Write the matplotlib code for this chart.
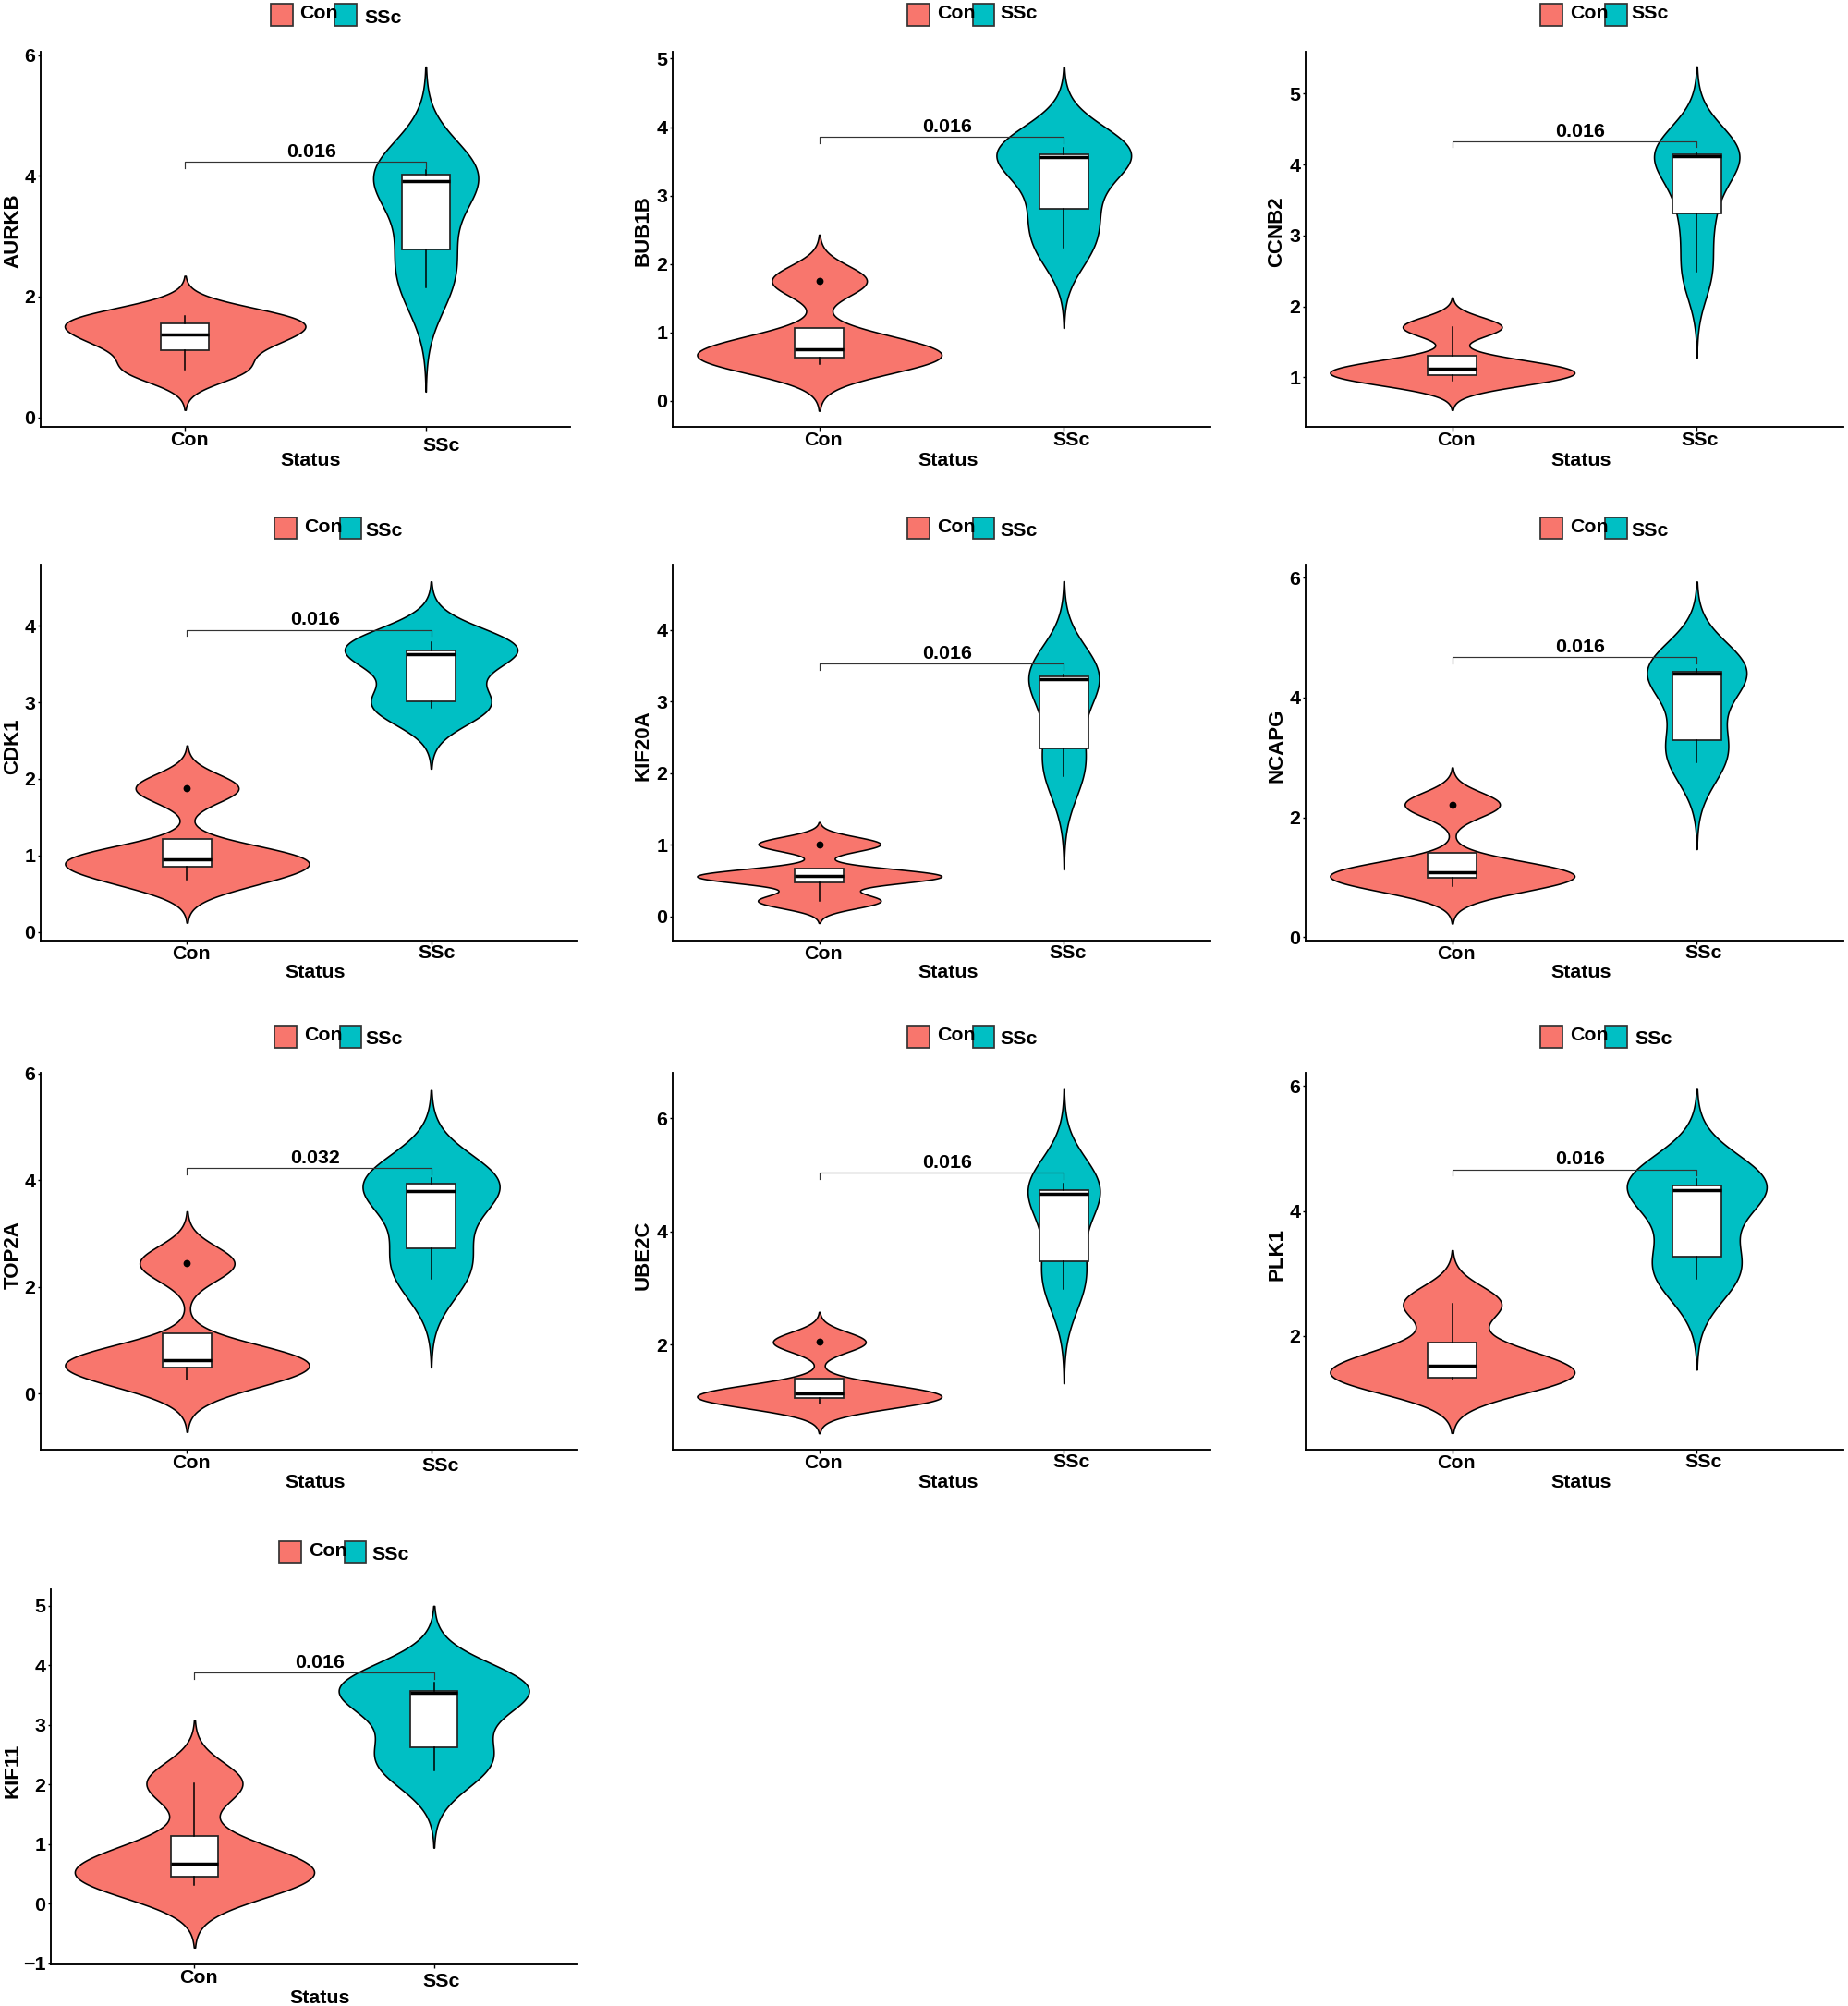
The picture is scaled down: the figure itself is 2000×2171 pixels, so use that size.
import numpy as np
import matplotlib
matplotlib.use("Agg")
import matplotlib.pyplot as plt
from matplotlib.patches import Rectangle
from matplotlib.transforms import ScaledTranslation

plt.rcParams["font.family"] = ["Liberation Sans", "DejaVu Sans"]
plt.rcParams["font.weight"] = "bold"

genes = ["AURKB", "BUB1B", "CCNB2", "CDK1", "KIF20A", "NCAPG", "TOP2A", "UBE2C", "PLK1", "KIF11"]
groups = ["Con", "SSc"]

# samples read back from the boxplots (4 controls, 5 patients per gene)
con_values = [
    [0.785, 1.226, 1.507, 1.68],
    [0.533, 0.66, 0.843, 1.753],
    [0.956, 1.061, 1.175, 1.708],
    [0.681, 0.909, 1.0, 1.876],
    [0.214, 0.556, 0.56, 1.007],
    [0.849, 1.044, 1.13, 2.214],
    [0.258, 0.57, 0.696, 2.437],
    [0.972, 1.091, 1.195, 2.05],
    [1.309, 1.349, 1.695, 2.516],
    [0.32, 0.488, 0.844, 2.019],
]
ssc_values = [
    [2.145, 2.775, 3.92, 4.015, 4.09],
    [2.245, 2.80, 3.56, 3.607, 3.70],
    [2.487, 3.31, 4.12, 4.14, 4.17],
    [2.924, 3.017, 3.629, 3.678, 3.788],
    [1.961, 2.34, 3.31, 3.355, 3.37],
    [2.922, 3.292, 4.406, 4.427, 4.484],
    [2.144, 2.712, 3.802, 3.93, 4.03],
    [2.983, 3.475, 4.657, 4.724, 4.85],
    [2.91, 3.275, 4.335, 4.405, 4.505],
    [2.234, 2.617, 3.534, 3.571, 3.702],
]
p_labels = ["0.016", "0.016", "0.016", "0.016", "0.016", "0.016", "0.032", "0.016", "0.016", "0.016"]
bracket_y = [4.233, 3.857, 4.327, 3.947, 3.529, 4.677, 4.224, 5.039, 4.663, 3.875]
y_ticks = [
    [0, 2, 4, 6],
    [0, 1, 2, 3, 4, 5],
    [1, 2, 3, 4, 5],
    [0, 1, 2, 3, 4],
    [0, 1, 2, 3, 4],
    [0, 2, 4, 6],
    [0, 2, 4, 6],
    [2, 4, 6],
    [2, 4, 6],
    [-1, 0, 1, 2, 3, 4, 5],
]
y_limits = [
    (-0.16, 6.057), (-0.378, 5.10), (0.30, 5.59), (-0.114, 4.80), (-0.34, 4.91),
    (-0.057, 6.22), (-1.054, 6.01), (0.149, 6.80), (0.183, 6.21), (-1.02, 5.275),
]

# layout in image pixels
panel_px = [
    (44, 56, 617, 462), (728, 56, 1310, 462), (1413, 56, 1995, 462),
    (44, 611, 625, 1018), (728, 611, 1310, 1018), (1413, 611, 1995, 1018),
    (44, 1161, 625, 1569), (728, 1161, 1310, 1569), (1413, 1161, 1995, 1569),
    (55, 1720, 625, 2126),
]
status_px = [(336, 498), (1026, 498), (1711, 498), (341, 1053), (1026, 1053), (1711, 1053),
             (341, 1604), (1026, 1604), (1711, 1604), (346, 2162)]
ylabel_px = [(14, 250), (696, 250), (1382, 251), (14, 808), (696, 807), (1382, 807),
             (14, 1358), (696, 1358), (1382, 1358), (14, 1916)]
ssc_label_dx = [16.8, 8.8, 2.9, 6.3, 4.6, 6.9, 10.5, 8.8, 6.9, 7.6]
ssc_label_dy = [-5.5, 0.5, 0.5, 1, 1, 1, -2.5, 1.5, 1, -4]
# con patch left, ssc patch left, patch top, con text x, con text y, ssc text x, ssc text y
legend_px = [
    (293, 362, 4.4, 345, 15, 415, 19.6),
    (982, 1052.6, 4.4, 1035, 15, 1103, 15),
    (1667, 1737.4, 4.4, 1720, 15, 1786, 15),
    (297, 367.5, 559.5, 350, 570, 415.5, 574),
    (982, 1052.6, 559.5, 1035, 570, 1103, 574),
    (1667, 1737.4, 559.5, 1720, 570, 1786, 574),
    (297, 367.5, 1110, 350, 1121, 415.5, 1124),
    (982, 1052.6, 1110, 1035, 1121, 1103, 1124),
    (1667, 1737.4, 1110, 1720, 1121, 1790, 1124),
    (302, 372.6, 1668, 355, 1679, 423, 1682),
]

FILL = {"Con": "#F8766D", "SSc": "#00BFC4"}
W, H = 2000, 2171
FONT = 15.4


def kde(values):
    # gaussian density, bw.nrd0 bandwidth, tails cut at 3 bandwidths
    values = np.asarray(values)
    q1, q3 = np.percentile(values, [25, 75])
    bw = 0.9 * min(values.std(ddof=1), (q3 - q1) / 1.34) * len(values) ** -0.2
    grid = np.linspace(values.min() - 3 * bw, values.max() + 3 * bw, 512)
    dens = np.exp(-0.5 * ((grid[:, None] - values) / bw) ** 2).sum(axis=1)
    return grid, dens / (len(values) * bw * np.sqrt(2 * np.pi))


def draw_panel(fig, i):
    left, top, right, bottom = panel_px[i]
    ax = fig.add_axes([left / W, 1 - bottom / H, (right - left) / W, (bottom - top) / H])
    ax.patch.set_alpha(0)

    samples = [con_values[i], ssc_values[i]]
    curves = [kde(s) for s in samples]
    peak = max(d.max() for _, d in curves)
    for pos, name, (grid, dens) in zip([1, 2], groups, curves):
        half = dens / peak * 0.5
        ax.fill_betweenx(grid, pos - half, pos + half, facecolor=FILL[name],
                         edgecolor="black", linewidth=1.15, zorder=1)

    ax.boxplot(samples, positions=[1, 2], widths=0.2, patch_artist=True, manage_ticks=False,
               showcaps=False, zorder=2,
               boxprops=dict(facecolor="white", edgecolor="#222222", linewidth=1.25),
               medianprops=dict(color="black", linewidth=2.5, solid_capstyle="butt"),
               whiskerprops=dict(color="black", linewidth=1.1),
               flierprops=dict(marker="o", markerfacecolor="black", markeredgecolor="black",
                               markersize=4.6))

    ymin, ymax = y_limits[i]
    tip = 0.016 * (ymax - ymin)
    by = bracket_y[i]
    ax.plot([1, 1, 2, 2], [by - tip, by, by, by - tip], color="#333333", linewidth=0.85, zorder=3)
    ax.annotate(p_labels[i], (1.5, by), xytext=(4.5, 1), textcoords="offset points",
                ha="center", va="bottom", fontsize=FONT, fontweight="bold", zorder=4)

    ax.set_xlim(0.4, 2.6)
    ax.set_ylim(ymin, ymax)
    ax.set_yticks(y_ticks[i])
    ax.set_xticks([1, 2], groups)
    ax.spines[["top", "right"]].set_visible(False)
    ax.spines[["left", "bottom"]].set_linewidth(1.35)
    ax.tick_params(axis="y", length=2.5, width=1.0, pad=1.5, labelsize=FONT)
    ax.tick_params(axis="x", length=3.2, width=1.0, pad=0.6, labelsize=FONT)

    dxs = [4.5, ssc_label_dx[i]]
    dys = [0, ssc_label_dy[i]]
    for lab, dx, dy in zip(ax.get_xticklabels(), dxs, dys):
        lab.set_transform(lab.get_transform() + ScaledTranslation(dx / 100, dy / 100, fig.dpi_scale_trans))

    ax.set_xlabel("Status", fontsize=FONT, fontweight="bold", va="center")
    ax.xaxis.set_label_coords((status_px[i][0] - left) / (right - left),
                              (bottom - status_px[i][1]) / (bottom - top))
    ax.set_ylabel(genes[i], fontsize=FONT + 0.6, fontweight="bold", va="center")
    ax.yaxis.set_label_coords((ylabel_px[i][0] - left) / (right - left),
                              (bottom - ylabel_px[i][1]) / (bottom - top))

    draw_legend(fig, legend_px[i])


def draw_legend(fig, spec):
    con_x, ssc_x, top, con_tx, con_ty, ssc_tx, ssc_ty = spec
    size = 23.5
    for x, name, tx, ty in [(con_x, "Con", con_tx, con_ty), (ssc_x, "SSc", ssc_tx, ssc_ty)]:
        fig.add_artist(Rectangle((x / W, 1 - (top + size) / H), size / W, size / H,
                                 transform=fig.transFigure, facecolor=FILL[name],
                                 edgecolor="#333333", linewidth=1.25))
        fig.add_artist(plt.Text(tx / W, 1 - ty / H, name, transform=fig.transFigure, ha="center",
                                va="center", fontsize=FONT, fontweight="bold"))


fig = plt.figure(figsize=(W / 100, H / 100), dpi=100, facecolor="white")
for i in range(len(genes)):
    draw_panel(fig, i)
fig.savefig("out.png", dpi=100)
